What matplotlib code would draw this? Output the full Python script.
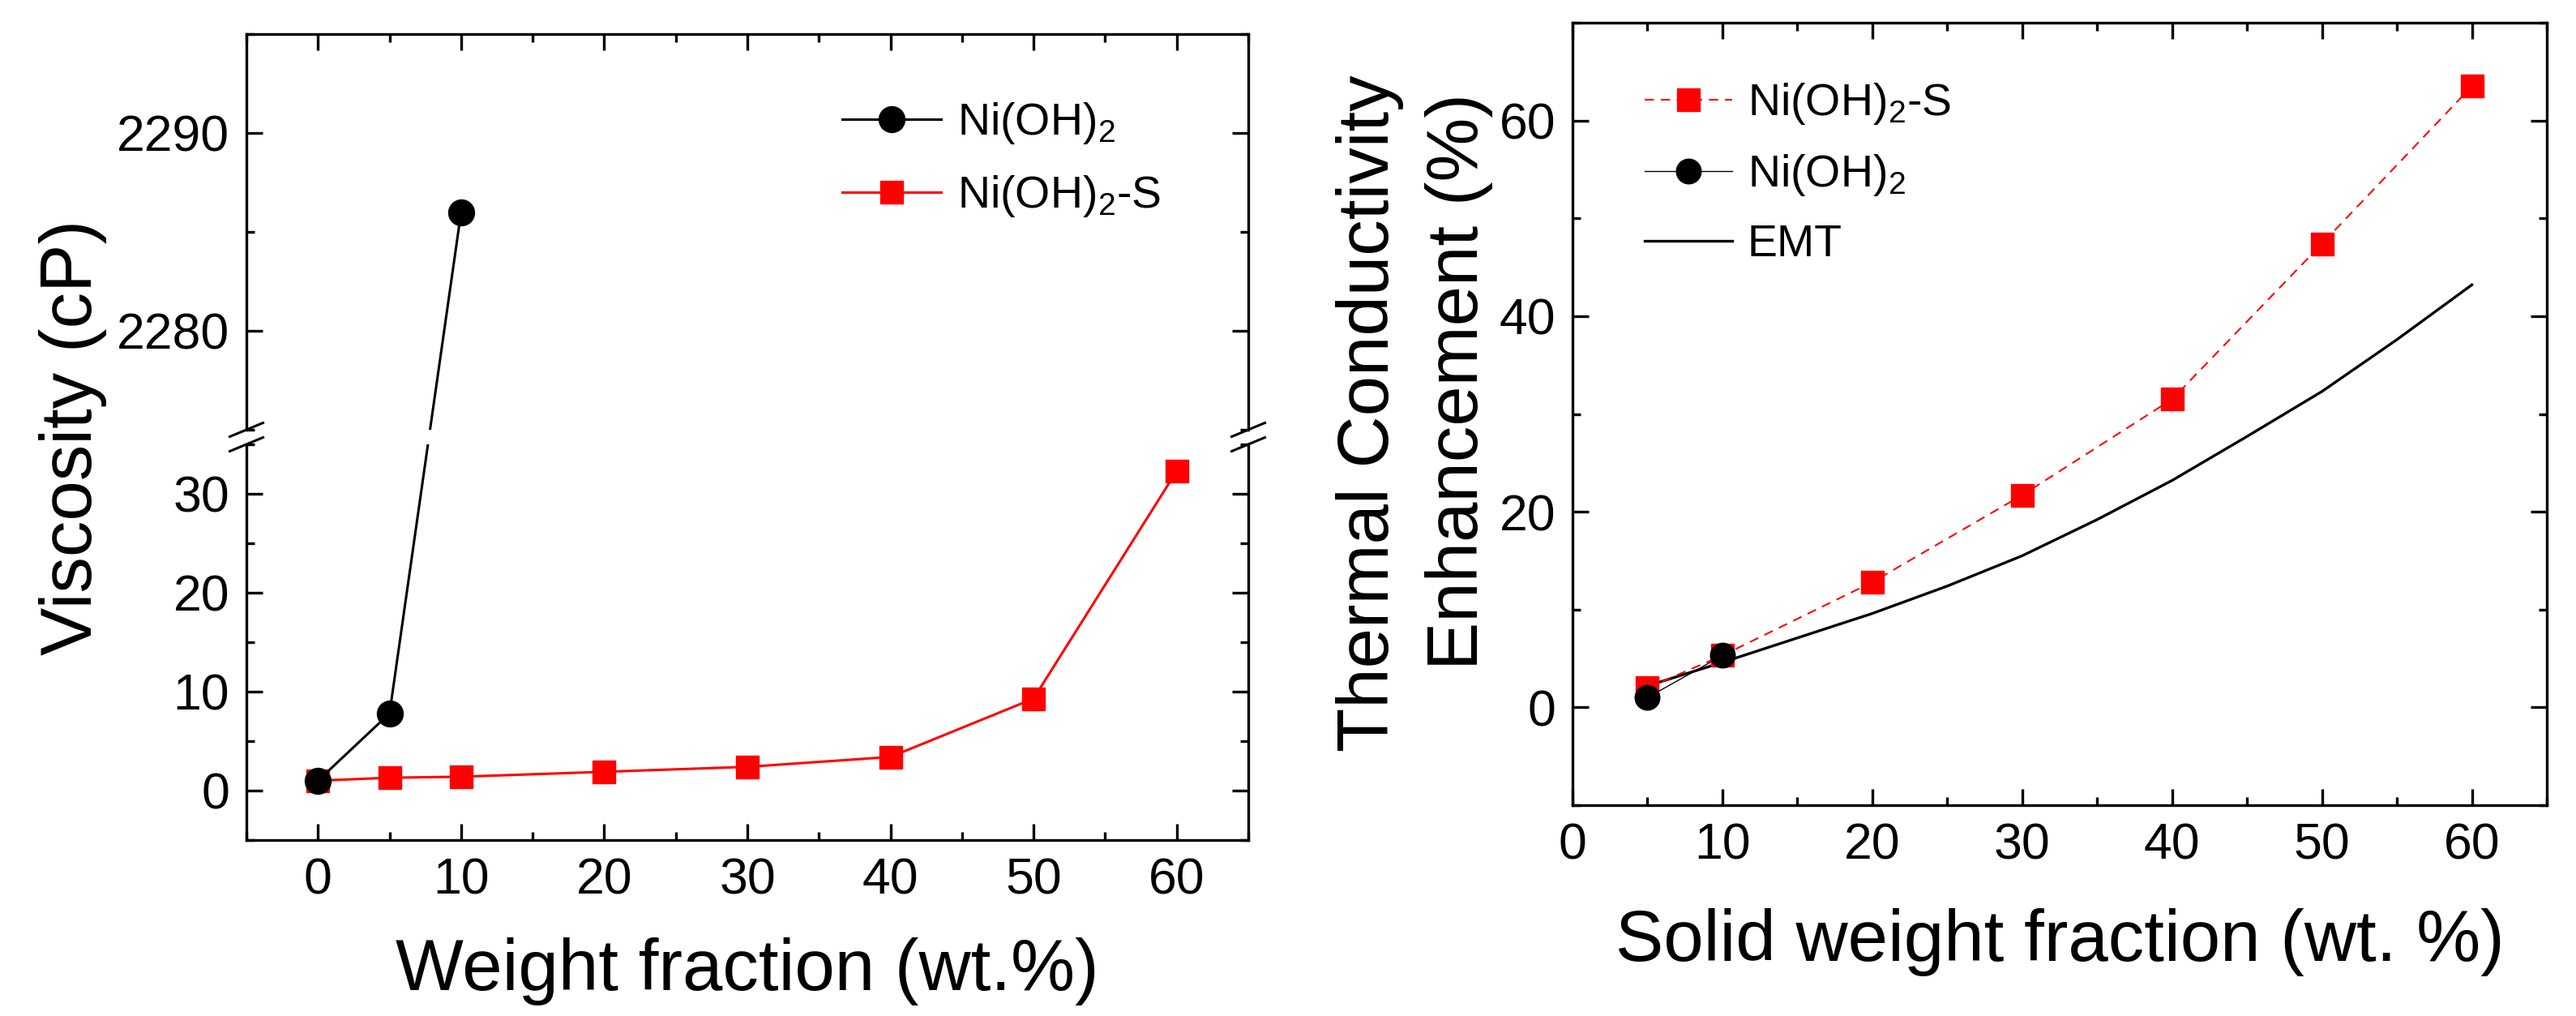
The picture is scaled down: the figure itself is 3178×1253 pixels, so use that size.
import matplotlib
matplotlib.use('Agg')

import matplotlib.pyplot as plt
from matplotlib.lines import Line2D
from matplotlib.ticker import MultipleLocator

plt.rcParams['font.family'] = ['Liberation Sans', 'DejaVu Sans']
plt.rcParams['mathtext.fontset'] = 'custom'
plt.rcParams['mathtext.rm'] = 'Liberation Sans'

# ---- left panel: viscosity (cP) vs weight fraction (wt.%)
visc_x_ni = [0, 5, 10]
visc_y_ni = [1.0, 7.8, 2286.0]
visc_x_s = [0, 5, 10, 20, 30, 40, 50, 60]
visc_y_s = [1.0, 1.3, 1.4, 1.9, 2.4, 3.4, 9.3, 32.3]

# ---- right panel: thermal conductivity enhancement (%) vs solid weight fraction
tc_x_s = [5, 10, 20, 30, 40, 50, 60]
tc_y_s = [2.0, 5.3, 12.8, 21.7, 31.5, 47.4, 63.5]
tc_x_ni = [5, 10]
tc_y_ni = [1.0, 5.3]
emt_x = [5, 10, 15, 20, 25, 30, 35, 40, 45, 50, 55, 60]
emt_y = [2.2, 4.6, 7.1, 9.6, 12.4, 15.5, 19.2, 23.2, 27.7, 32.3, 37.6, 43.2]

LABEL_NI = r'Ni(OH)$_\mathregular{2}$'
LABEL_S = r'Ni(OH)$_\mathregular{2}$-S'

W, H = 3178, 1253
DPI = 100
TICK_FS = 45
LABEL_FS = 64
LEG_FS = 40
LW_AX = 2.4


def px_box(x0, y0, x1, y1):
    """Pixel box (top-left origin) -> figure fraction rect."""
    return [x0 / W, 1 - y1 / H, (x1 - x0) / W, (y1 - y0) / H]


def style(ax):
    for sp in ax.spines.values():
        sp.set_linewidth(LW_AX)
    ax.tick_params(which='both', direction='in', width=LW_AX,
                   labelsize=TICK_FS, pad=15, left=True, right=True)
    ax.tick_params(which='major', length=14.5)
    ax.tick_params(which='minor', length=7.2)
    ax.xaxis.set_major_locator(MultipleLocator(10))
    ax.xaxis.set_minor_locator(MultipleLocator(5))


fig = plt.figure(figsize=(W / DPI, H / DPI), dpi=DPI, facecolor='white')

ax_hi = fig.add_axes(px_box(304, 42, 1540, 530))
ax_lo = fig.add_axes(px_box(304, 548, 1540, 1036))
ax_tc = fig.add_axes(px_box(1940, 28, 3142, 993))

for ax in (ax_hi, ax_lo, ax_tc):
    style(ax)

ax_hi.set_xlim(-5, 65)
ax_lo.set_xlim(-5, 65)
ax_hi.set_ylim(2275, 2295)
ax_lo.set_ylim(-5, 35)
ax_hi.yaxis.set_major_locator(MultipleLocator(10))
ax_hi.yaxis.set_minor_locator(MultipleLocator(5))
ax_lo.yaxis.set_major_locator(MultipleLocator(10))
ax_lo.yaxis.set_minor_locator(MultipleLocator(5))

ax_hi.spines['bottom'].set_visible(False)
ax_lo.spines['top'].set_visible(False)
ax_hi.tick_params(which='both', bottom=False, labelbottom=False, top=True)
ax_lo.tick_params(which='both', top=False, bottom=True)

# red series, lower part
ax_lo.plot(visc_x_s, visc_y_s, color='red', lw=2.2, marker='s', ms=20.5,
           mec='red', mfc='red', label=LABEL_S)
ax_hi.plot(visc_x_s, visc_y_s, color='red', lw=2.2, marker='s', ms=20.5,
           mec='red', mfc='red', label=LABEL_S)

# black series: straight on screen across the break
p_top = ax_hi.transData.transform((visc_x_ni[-1], visc_y_ni[-1]))
p_mid = ax_lo.transData.transform((visc_x_ni[-2], visc_y_ni[-2]))
top_in_lo = ax_lo.transData.inverted().transform(p_top)
mid_in_hi = ax_hi.transData.inverted().transform(p_mid)

ax_lo.plot(visc_x_ni[:-1] + [top_in_lo[0]], visc_y_ni[:-1] + [top_in_lo[1]],
           color='black', lw=2.2)
ax_lo.plot(visc_x_ni[:-1], visc_y_ni[:-1], ls='none', marker='o', ms=23,
           color='black')
ax_hi.plot([mid_in_hi[0], visc_x_ni[-1]], [mid_in_hi[1], visc_y_ni[-1]],
           color='black', lw=2.2)
ax_hi.plot(visc_x_ni[-1:], visc_y_ni[-1:], ls='none', marker='o', ms=23,
           color='black')

# break marks on both spines
for ax, yb in ((ax_hi, 0.0), (ax_lo, 1.0)):
    bb = ax.get_window_extent()
    dx = 20.5 / bb.width
    dy = 8.5 / bb.height
    for xb in (0.0, 1.0):
        ax.add_line(Line2D([xb - dx, xb + dx], [yb - dy, yb + dy],
                           transform=ax.transAxes, color='black',
                           lw=2.2, clip_on=False))

leg_handles = [
    Line2D([], [], color='black', lw=2.2, marker='o', ms=23),
    Line2D([], [], color='red', lw=2.2, marker='s', ms=20.5),
]
ax_hi.legend(leg_handles, [LABEL_NI, LABEL_S], loc='upper left',
             bbox_to_anchor=(1039 / W, 1 - 124 / H),
             bbox_transform=fig.transFigure, frameon=False,
             fontsize=LEG_FS, handlelength=2.2, handletextpad=0.35,
             borderpad=0, borderaxespad=0, labelspacing=0.62, numpoints=1)

fig.text(90 / W, 1 - 539 / H, 'Viscosity (cP)', rotation=90,
         ha='center', va='center', fontsize=LABEL_FS)
fig.text(922 / W, 1 - 1198 / H, 'Weight fraction (wt.%)',
         ha='center', va='center', fontsize=LABEL_FS)

# ---- right panel
ax_tc.set_xlim(0, 65)
ax_tc.set_ylim(-10, 70)
ax_tc.yaxis.set_major_locator(MultipleLocator(20))
ax_tc.yaxis.set_minor_locator(MultipleLocator(10))
ax_tc.tick_params(which='both', top=True)

ax_tc.plot(emt_x, emt_y, color='black', lw=2.4, label='EMT')
ax_tc.plot(tc_x_s, tc_y_s, color='red', lw=1.5, ls=(0, (5.5, 4.0)),
           marker='s', ms=20, mec='red', mfc='red', label=LABEL_S)
ax_tc.plot(tc_x_ni, tc_y_ni, color='black', lw=1.0, marker='o', ms=22,
           label=LABEL_NI)

handles, labels = ax_tc.get_legend_handles_labels()
order = [1, 2, 0]
ax_tc.legend([handles[i] for i in order], [labels[i] for i in order],
             loc='upper left', bbox_to_anchor=(2029 / W, 1 - 100 / H),
             bbox_transform=fig.transFigure, frameon=False,
             fontsize=LEG_FS, handlelength=1.95, handletextpad=0.33,
             borderpad=0, borderaxespad=0, labelspacing=0.58, numpoints=1)

fig.text(1690 / W, 1 - 510 / H, 'Thermal Conductivity', rotation=90,
         ha='center', va='center', fontsize=LABEL_FS)
fig.text(1800 / W, 1 - 471 / H, 'Enhancement (%)', rotation=90,
         ha='center', va='center', fontsize=LABEL_FS)
fig.text(2541 / W, 1 - 1162 / H, 'Solid weight fraction (wt. %)',
         ha='center', va='center', fontsize=LABEL_FS)

fig.savefig('out.png', dpi=DPI, facecolor='white')
